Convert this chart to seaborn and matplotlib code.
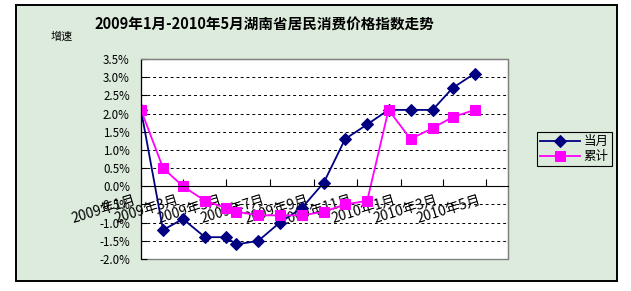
import matplotlib
matplotlib.use("Agg")
import matplotlib.pyplot as plt
from matplotlib.patches import Rectangle
from matplotlib.transforms import ScaledTranslation
import seaborn as sns
import pandas as pd

# ---- data ----
dates = ["2009-01-01", "2009-02-01", "2009-03-01", "2009-04-01", "2009-05-01",
         "2009-05-15", "2009-06-15", "2009-07-15", "2009-08-15", "2009-09-15",
         "2009-10-15", "2009-11-15", "2009-12-15", "2010-01-15", "2010-02-15",
         "2010-03-15", "2010-04-15"]
monthly = [2.1, -1.2, -0.9, -1.4, -1.4, -1.6, -1.5, -1.0, -0.6, 0.1,
           1.3, 1.7, 2.1, 2.1, 2.1, 2.7, 3.1]
cumulative = [2.1, 0.5, 0.0, -0.4, -0.6, -0.7, -0.8, -0.8, -0.8, -0.7,
              -0.5, -0.4, 2.1, 1.3, 1.6, 1.9, 2.1]
series_names = ["当月", "累计"]
xtick_dates = ["2009-01-01", "2009-03-01", "2009-05-01", "2009-07-01", "2009-09-01",
               "2009-11-01", "2010-01-01", "2010-03-01", "2010-05-01"]
xtick_labels = ["2009年1月", "2009年3月", "2009年5月", "2009年7月", "2009年9月",
                "2009年11月", "2010年1月", "2010年3月", "2010年5月"]
ytick_values = [-2.0, -1.5, -1.0, -0.5, 0.0, 0.5, 1.0, 1.5, 2.0, 2.5, 3.0, 3.5]
ytick_labels = ["-2.0%", "-1.5%", "-1.0%", "-0.5%", "0.0%", "0.5%", "1.0%",
                "1.5%", "2.0%", "2.5%", "3.0%", "3.5%"]
title = "2009年1月-2010年5月湖南省居民消费价格指数走势"
ylabel = "增速"

plt.rcParams['font.family'] = ['Noto Sans CJK SC', 'DejaVu Sans']
plt.rcParams['axes.unicode_minus'] = False

bg = "#dcebdb"
navy = "#000080"
pink = "#ff00ff"

W, H = 631, 291
fig = plt.figure(figsize=(W / 100, H / 100), dpi=100, facecolor="white")
fig.patches.append(Rectangle((16 / W, 10 / H), (617 - 16) / W, (286 - 10) / H,
                             transform=fig.transFigure, facecolor=bg,
                             edgecolor="black", linewidth=1.4, zorder=-5))

ax = fig.add_axes([141 / W, (H - 259) / H, 367 / W, 200 / H])
ax.set_zorder(1)
ax.set_facecolor("white")

x = pd.to_datetime(dates)
sns.lineplot(x=x, y=monthly, ax=ax, color=navy, marker="D", markersize=6,
             markeredgecolor=navy, linewidth=1.3, label=series_names[0])
sns.lineplot(x=x, y=cumulative, ax=ax, color=pink, marker="s", markersize=7,
             markeredgecolor=pink, linewidth=1.3, label=series_names[1])

ax.set_xlim(pd.Timestamp("2009-01-01"), pd.Timestamp("2010-06-01"))
ax.set_ylim(-2.0, 3.5)
ax.set_yticks(ytick_values)
ax.set_yticklabels(ytick_labels, fontsize=8.3)
ax.set_xticks(pd.to_datetime(xtick_dates))
ax.set_xticklabels(xtick_labels, fontsize=7.5)
ax.set_xlabel("")
ax.set_ylabel("")

ax.spines["bottom"].set_position(("data", 0))
ax.spines["bottom"].set_color("black")
ax.spines["left"].set_color("black")
for s in ("top", "right"):
    ax.spines[s].set_color("#808080")
ax.patch.set_edgecolor("#808080")
ax.patch.set_linewidth(1.0)

ax.tick_params(axis="y", direction="in", length=4, pad=8, colors="black")
ax.tick_params(axis="x", direction="in", length=5, pad=4, colors="black",
               labelrotation=17)

ax.yaxis.grid(True, linestyle=(0, (3, 3)), color="black", linewidth=0.7)
ax.xaxis.grid(False)

fig.text(264 / W, 1 - 25 / H, title, ha="center", va="center",
         fontsize=10.5, fontweight="bold")
fig.text(62 / W, 1 - 37 / H, ylabel, ha="center", va="center", fontsize=8)

leg = ax.legend(loc="upper left", bbox_to_anchor=(537 / W, 1 - 132 / H),
                bbox_transform=fig.transFigure, frameon=True, fancybox=False,
                edgecolor="black", facecolor=bg, framealpha=1, fontsize=9,
                handlelength=3.2, borderpad=0.25, labelspacing=0.15,
                handletextpad=0.3, borderaxespad=0)
leg.get_frame().set_linewidth(0.8)

fig.canvas.draw()
gl = ax.yaxis.get_gridlines()
gl[0].set_visible(False)
gl[-1].set_visible(False)
offset = ScaledTranslation(-7 / 100, -1 / 100, fig.dpi_scale_trans)
for lab in ax.get_xticklabels():
    lab.set_rotation(17)
    lab.set_ha("right")
    lab.set_va("top")
    lab.set_rotation_mode("anchor")
    lab.set_transform(lab.get_transform() + offset)

fig.savefig("out.png", dpi=100, facecolor="white")
